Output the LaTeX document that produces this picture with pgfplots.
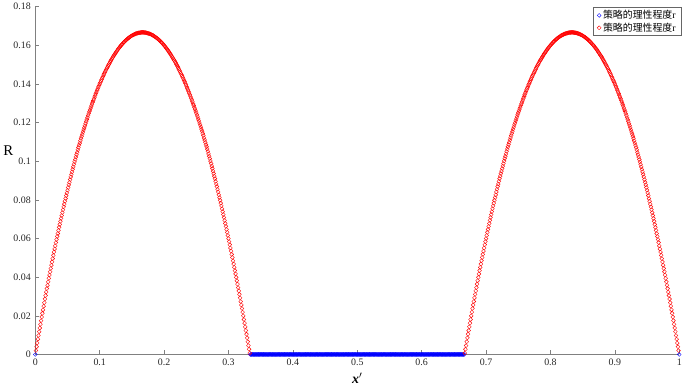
\documentclass[border=0pt]{standalone}
\usepackage{pgfplots}
\usepackage{pgfplotstable}
\pgfplotsset{compat=1.18}
\usepackage{fontspec}
\setmainfont{Liberation Serif}
\newfontfamily\cjk{Noto Sans CJK SC}

\pgfplotstableread{
xa xb r
0.001 0.999 0.0020
0.002 0.998 0.0040
0.003 0.997 0.0059
0.004 0.996 0.0079
0.005 0.995 0.0098
0.006 0.994 0.0118
0.007 0.993 0.0137
0.008 0.992 0.0156
0.009 0.991 0.0175
0.010 0.990 0.0194
0.011 0.989 0.0213
0.012 0.988 0.0231
0.013 0.987 0.0250
0.014 0.986 0.0268
0.015 0.985 0.0287
0.016 0.984 0.0305
0.017 0.983 0.0323
0.018 0.982 0.0341
0.019 0.981 0.0358
0.020 0.980 0.0376
0.021 0.979 0.0394
0.022 0.978 0.0411
0.023 0.977 0.0428
0.024 0.976 0.0445
0.025 0.975 0.0462
0.026 0.974 0.0479
0.027 0.973 0.0496
0.028 0.972 0.0513
0.029 0.971 0.0530
0.030 0.970 0.0546
0.031 0.969 0.0562
0.032 0.968 0.0579
0.033 0.967 0.0595
0.034 0.966 0.0611
0.035 0.965 0.0626
0.036 0.964 0.0642
0.037 0.963 0.0658
0.038 0.962 0.0673
0.039 0.961 0.0689
0.040 0.960 0.0704
0.041 0.959 0.0719
0.042 0.958 0.0734
0.043 0.957 0.0749
0.044 0.956 0.0764
0.045 0.955 0.0778
0.046 0.954 0.0793
0.047 0.953 0.0807
0.048 0.952 0.0822
0.049 0.951 0.0836
0.050 0.950 0.0850
0.051 0.949 0.0864
0.052 0.948 0.0878
0.053 0.947 0.0891
0.054 0.946 0.0905
0.055 0.945 0.0919
0.056 0.944 0.0932
0.057 0.943 0.0945
0.058 0.942 0.0958
0.059 0.941 0.0971
0.060 0.940 0.0984
0.061 0.939 0.0997
0.062 0.938 0.1009
0.063 0.937 0.1022
0.064 0.936 0.1034
0.065 0.935 0.1046
0.066 0.934 0.1059
0.067 0.933 0.1071
0.068 0.932 0.1083
0.069 0.931 0.1094
0.070 0.930 0.1106
0.071 0.929 0.1118
0.072 0.928 0.1129
0.073 0.927 0.1140
0.074 0.926 0.1151
0.075 0.925 0.1162
0.076 0.924 0.1173
0.077 0.923 0.1184
0.078 0.922 0.1195
0.079 0.921 0.1206
0.080 0.920 0.1216
0.081 0.919 0.1226
0.082 0.918 0.1237
0.083 0.917 0.1247
0.084 0.916 0.1257
0.085 0.915 0.1266
0.086 0.914 0.1276
0.087 0.913 0.1286
0.088 0.912 0.1295
0.089 0.911 0.1305
0.090 0.910 0.1314
0.091 0.909 0.1323
0.092 0.908 0.1332
0.093 0.907 0.1341
0.094 0.906 0.1350
0.095 0.905 0.1358
0.096 0.904 0.1367
0.097 0.903 0.1375
0.098 0.902 0.1384
0.099 0.901 0.1392
0.100 0.900 0.1400
0.101 0.899 0.1408
0.102 0.898 0.1416
0.103 0.897 0.1423
0.104 0.896 0.1431
0.105 0.895 0.1438
0.106 0.894 0.1446
0.107 0.893 0.1453
0.108 0.892 0.1460
0.109 0.891 0.1467
0.110 0.890 0.1474
0.111 0.889 0.1481
0.112 0.888 0.1487
0.113 0.887 0.1494
0.114 0.886 0.1500
0.115 0.885 0.1506
0.116 0.884 0.1513
0.117 0.883 0.1519
0.118 0.882 0.1525
0.119 0.881 0.1530
0.120 0.880 0.1536
0.121 0.879 0.1542
0.122 0.878 0.1547
0.123 0.877 0.1552
0.124 0.876 0.1557
0.125 0.875 0.1562
0.126 0.874 0.1567
0.127 0.873 0.1572
0.128 0.872 0.1577
0.129 0.871 0.1582
0.130 0.870 0.1586
0.131 0.869 0.1590
0.132 0.868 0.1595
0.133 0.867 0.1599
0.134 0.866 0.1603
0.135 0.865 0.1606
0.136 0.864 0.1610
0.137 0.863 0.1614
0.138 0.862 0.1617
0.139 0.861 0.1621
0.140 0.860 0.1624
0.141 0.859 0.1627
0.142 0.858 0.1630
0.143 0.857 0.1633
0.144 0.856 0.1636
0.145 0.855 0.1638
0.146 0.854 0.1641
0.147 0.853 0.1643
0.148 0.852 0.1646
0.149 0.851 0.1648
0.150 0.850 0.1650
0.151 0.849 0.1652
0.152 0.848 0.1654
0.153 0.847 0.1655
0.154 0.846 0.1657
0.155 0.845 0.1658
0.156 0.844 0.1660
0.157 0.843 0.1661
0.158 0.842 0.1662
0.159 0.841 0.1663
0.160 0.840 0.1664
0.161 0.839 0.1665
0.162 0.838 0.1665
0.163 0.837 0.1666
0.164 0.836 0.1666
0.165 0.835 0.1667
0.166 0.834 0.1667
0.167 0.833 0.1667
0.168 0.832 0.1667
0.169 0.831 0.1666
0.170 0.830 0.1666
0.171 0.829 0.1666
0.172 0.828 0.1665
0.173 0.827 0.1664
0.174 0.826 0.1663
0.175 0.825 0.1662
0.176 0.824 0.1661
0.177 0.823 0.1660
0.178 0.822 0.1659
0.179 0.821 0.1658
0.180 0.820 0.1656
0.181 0.819 0.1654
0.182 0.818 0.1653
0.183 0.817 0.1651
0.184 0.816 0.1649
0.185 0.815 0.1646
0.186 0.814 0.1644
0.187 0.813 0.1642
0.188 0.812 0.1639
0.189 0.811 0.1637
0.190 0.810 0.1634
0.191 0.809 0.1631
0.192 0.808 0.1628
0.193 0.807 0.1625
0.194 0.806 0.1622
0.195 0.805 0.1618
0.196 0.804 0.1615
0.197 0.803 0.1611
0.198 0.802 0.1608
0.199 0.801 0.1604
0.200 0.800 0.1600
0.201 0.799 0.1596
0.202 0.798 0.1592
0.203 0.797 0.1587
0.204 0.796 0.1583
0.205 0.795 0.1578
0.206 0.794 0.1574
0.207 0.793 0.1569
0.208 0.792 0.1564
0.209 0.791 0.1559
0.210 0.790 0.1554
0.211 0.789 0.1549
0.212 0.788 0.1543
0.213 0.787 0.1538
0.214 0.786 0.1532
0.215 0.785 0.1526
0.216 0.784 0.1521
0.217 0.783 0.1515
0.218 0.782 0.1509
0.219 0.781 0.1502
0.220 0.780 0.1496
0.221 0.779 0.1490
0.222 0.778 0.1483
0.223 0.777 0.1476
0.224 0.776 0.1469
0.225 0.775 0.1462
0.226 0.774 0.1455
0.227 0.773 0.1448
0.228 0.772 0.1441
0.229 0.771 0.1434
0.230 0.770 0.1426
0.231 0.769 0.1418
0.232 0.768 0.1411
0.233 0.767 0.1403
0.234 0.766 0.1395
0.235 0.765 0.1386
0.236 0.764 0.1378
0.237 0.763 0.1370
0.238 0.762 0.1361
0.239 0.761 0.1353
0.240 0.760 0.1344
0.241 0.759 0.1335
0.242 0.758 0.1326
0.243 0.757 0.1317
0.244 0.756 0.1308
0.245 0.755 0.1298
0.246 0.754 0.1289
0.247 0.753 0.1279
0.248 0.752 0.1270
0.249 0.751 0.1260
0.250 0.750 0.1250
0.251 0.749 0.1240
0.252 0.748 0.1230
0.253 0.747 0.1219
0.254 0.746 0.1209
0.255 0.745 0.1198
0.256 0.744 0.1188
0.257 0.743 0.1177
0.258 0.742 0.1166
0.259 0.741 0.1155
0.260 0.740 0.1144
0.261 0.739 0.1133
0.262 0.738 0.1121
0.263 0.737 0.1110
0.264 0.736 0.1098
0.265 0.735 0.1086
0.266 0.734 0.1075
0.267 0.733 0.1063
0.268 0.732 0.1051
0.269 0.731 0.1038
0.270 0.730 0.1026
0.271 0.729 0.1014
0.272 0.728 0.1001
0.273 0.727 0.0988
0.274 0.726 0.0975
0.275 0.725 0.0962
0.276 0.724 0.0949
0.277 0.723 0.0936
0.278 0.722 0.0923
0.279 0.721 0.0910
0.280 0.720 0.0896
0.281 0.719 0.0882
0.282 0.718 0.0869
0.283 0.717 0.0855
0.284 0.716 0.0841
0.285 0.715 0.0826
0.286 0.714 0.0812
0.287 0.713 0.0798
0.288 0.712 0.0783
0.289 0.711 0.0769
0.290 0.710 0.0754
0.291 0.709 0.0739
0.292 0.708 0.0724
0.293 0.707 0.0709
0.294 0.706 0.0694
0.295 0.705 0.0678
0.296 0.704 0.0663
0.297 0.703 0.0647
0.298 0.702 0.0632
0.299 0.701 0.0616
0.300 0.700 0.0600
0.301 0.699 0.0584
0.302 0.698 0.0568
0.303 0.697 0.0551
0.304 0.696 0.0535
0.305 0.695 0.0518
0.306 0.694 0.0502
0.307 0.693 0.0485
0.308 0.692 0.0468
0.309 0.691 0.0451
0.310 0.690 0.0434
0.311 0.689 0.0417
0.312 0.688 0.0399
0.313 0.687 0.0382
0.314 0.686 0.0364
0.315 0.685 0.0346
0.316 0.684 0.0329
0.317 0.683 0.0311
0.318 0.682 0.0293
0.319 0.681 0.0274
0.320 0.680 0.0256
0.321 0.679 0.0238
0.322 0.678 0.0219
0.323 0.677 0.0200
0.324 0.676 0.0181
0.325 0.675 0.0162
0.326 0.674 0.0143
0.327 0.673 0.0124
0.328 0.672 0.0105
0.329 0.671 0.0086
0.330 0.670 0.0066
0.331 0.669 0.0046
0.332 0.668 0.0027
0.333 0.667 0.0007
}\humps

\begin{document}
\begin{tikzpicture}
\begin{axis}[
  scale only axis,
  width=648bp, height=350bp,
  xmin=0, xmax=1, ymin=0, ymax=0.18,
  clip=false,
  axis x line=bottom, axis y line=left,
  axis line style={-, black!50},
  tick style={black!50, line width=0.5pt},
  tick align=inside,
  major tick length=4bp,
  xtick={0,0.1,0.2,0.3,0.4,0.5,0.6,0.7,0.8,0.9,1},
  ytick={0,0.02,0.04,0.06,0.08,0.1,0.12,0.14,0.16,0.18},
  scaled x ticks=false, scaled y ticks=false,
  /pgf/number format/fixed,
  /pgf/number format/precision=2,
  /pgf/number format/assume math mode=true,
  tick label style={font=\fontsize{10}{12}\selectfont, text=black!85},
  xticklabel style={yshift=-1bp},
  yticklabel style={xshift=-1bp},
  ylabel={R},
  ylabel style={rotate=-90, at={(axis description cs:-0.042,0.586)}, anchor=center, font=\fontsize{15}{16}\selectfont},
  xlabel={\textbf{\textit{x}}$'$},
  xlabel style={at={(axis description cs:0.5,-0.069)}, anchor=center, font=\fontsize{14}{16}\selectfont},
  legend style={at={(axis description cs:1.004,0.998)}, anchor=north east,
    draw=black!60, fill=white, font=\fontsize{10}{11.5}\selectfont,
    inner xsep=4pt, inner ysep=1pt, row sep=-1.5pt},
  legend cell align=left,
]
\addplot[only marks, mark=o, mark size=1.95pt, color=blue, line width=0.4pt] coordinates {
(0,0) (1,0)
(0.334,0) (0.336,0) (0.338,0) (0.340,0) (0.342,0) (0.344,0) (0.346,0) (0.348,0) (0.350,0) (0.352,0)
(0.354,0) (0.356,0) (0.358,0) (0.360,0) (0.362,0) (0.364,0) (0.366,0) (0.368,0) (0.370,0) (0.372,0)
(0.374,0) (0.376,0) (0.378,0) (0.380,0) (0.382,0) (0.384,0) (0.386,0) (0.388,0) (0.390,0) (0.392,0)
(0.394,0) (0.396,0) (0.398,0) (0.400,0) (0.402,0) (0.404,0) (0.406,0) (0.408,0) (0.410,0) (0.412,0)
(0.414,0) (0.416,0) (0.418,0) (0.420,0) (0.422,0) (0.424,0) (0.426,0) (0.428,0) (0.430,0) (0.432,0)
(0.434,0) (0.436,0) (0.438,0) (0.440,0) (0.442,0) (0.444,0) (0.446,0) (0.448,0) (0.450,0) (0.452,0)
(0.454,0) (0.456,0) (0.458,0) (0.460,0) (0.462,0) (0.464,0) (0.466,0) (0.468,0) (0.470,0) (0.472,0)
(0.474,0) (0.476,0) (0.478,0) (0.480,0) (0.482,0) (0.484,0) (0.486,0) (0.488,0) (0.490,0) (0.492,0)
(0.494,0) (0.496,0) (0.498,0) (0.500,0) (0.502,0) (0.504,0) (0.506,0) (0.508,0) (0.510,0) (0.512,0)
(0.514,0) (0.516,0) (0.518,0) (0.520,0) (0.522,0) (0.524,0) (0.526,0) (0.528,0) (0.530,0) (0.532,0)
(0.534,0) (0.536,0) (0.538,0) (0.540,0) (0.542,0) (0.544,0) (0.546,0) (0.548,0) (0.550,0) (0.552,0)
(0.554,0) (0.556,0) (0.558,0) (0.560,0) (0.562,0) (0.564,0) (0.566,0) (0.568,0) (0.570,0) (0.572,0)
(0.574,0) (0.576,0) (0.578,0) (0.580,0) (0.582,0) (0.584,0) (0.586,0) (0.588,0) (0.590,0) (0.592,0)
(0.594,0) (0.596,0) (0.598,0) (0.600,0) (0.602,0) (0.604,0) (0.606,0) (0.608,0) (0.610,0) (0.612,0)
(0.614,0) (0.616,0) (0.618,0) (0.620,0) (0.622,0) (0.624,0) (0.626,0) (0.628,0) (0.630,0) (0.632,0)
(0.634,0) (0.636,0) (0.638,0) (0.640,0) (0.642,0) (0.644,0) (0.646,0) (0.648,0) (0.650,0) (0.652,0)
(0.654,0) (0.656,0) (0.658,0) (0.660,0) (0.662,0) (0.664,0) (0.666,0)
(0.335,0) (0.337,0) (0.339,0) (0.341,0) (0.343,0) (0.345,0) (0.347,0) (0.349,0) (0.351,0) (0.353,0)
(0.355,0) (0.357,0) (0.359,0) (0.361,0) (0.363,0) (0.365,0) (0.367,0) (0.369,0) (0.371,0) (0.373,0)
(0.375,0) (0.377,0) (0.379,0) (0.381,0) (0.383,0) (0.385,0) (0.387,0) (0.389,0) (0.391,0) (0.393,0)
(0.395,0) (0.397,0) (0.399,0) (0.401,0) (0.403,0) (0.405,0) (0.407,0) (0.409,0) (0.411,0) (0.413,0)
(0.415,0) (0.417,0) (0.419,0) (0.421,0) (0.423,0) (0.425,0) (0.427,0) (0.429,0) (0.431,0) (0.433,0)
(0.435,0) (0.437,0) (0.439,0) (0.441,0) (0.443,0) (0.445,0) (0.447,0) (0.449,0) (0.451,0) (0.453,0)
(0.455,0) (0.457,0) (0.459,0) (0.461,0) (0.463,0) (0.465,0) (0.467,0) (0.469,0) (0.471,0) (0.473,0)
(0.475,0) (0.477,0) (0.479,0) (0.481,0) (0.483,0) (0.485,0) (0.487,0) (0.489,0) (0.491,0) (0.493,0)
(0.495,0) (0.497,0) (0.499,0) (0.501,0) (0.503,0) (0.505,0) (0.507,0) (0.509,0) (0.511,0) (0.513,0)
(0.515,0) (0.517,0) (0.519,0) (0.521,0) (0.523,0) (0.525,0) (0.527,0) (0.529,0) (0.531,0) (0.533,0)
(0.535,0) (0.537,0) (0.539,0) (0.541,0) (0.543,0) (0.545,0) (0.547,0) (0.549,0) (0.551,0) (0.553,0)
(0.555,0) (0.557,0) (0.559,0) (0.561,0) (0.563,0) (0.565,0) (0.567,0) (0.569,0) (0.571,0) (0.573,0)
(0.575,0) (0.577,0) (0.579,0) (0.581,0) (0.583,0) (0.585,0) (0.587,0) (0.589,0) (0.591,0) (0.593,0)
(0.595,0) (0.597,0) (0.599,0) (0.601,0) (0.603,0) (0.605,0) (0.607,0) (0.609,0) (0.611,0) (0.613,0)
(0.615,0) (0.617,0) (0.619,0) (0.621,0) (0.623,0) (0.625,0) (0.627,0) (0.629,0) (0.631,0) (0.633,0)
(0.635,0) (0.637,0) (0.639,0) (0.641,0) (0.643,0) (0.645,0) (0.647,0) (0.649,0) (0.651,0) (0.653,0)
(0.655,0) (0.657,0) (0.659,0) (0.661,0) (0.663,0) (0.665,0)
};
\addlegendentry{{\cjk 策略的理性程度}r}
\addplot[only marks, mark=o, mark size=1.95pt, color=red, line width=0.4pt] table[x=xa, y=r] {\humps};
\addlegendentry{{\cjk 策略的理性程度}r}
\addplot[only marks, mark=o, mark size=1.95pt, color=red, line width=0.4pt, forget plot] table[x=xb, y=r] {\humps};
\end{axis}
\end{tikzpicture}
\end{document}
